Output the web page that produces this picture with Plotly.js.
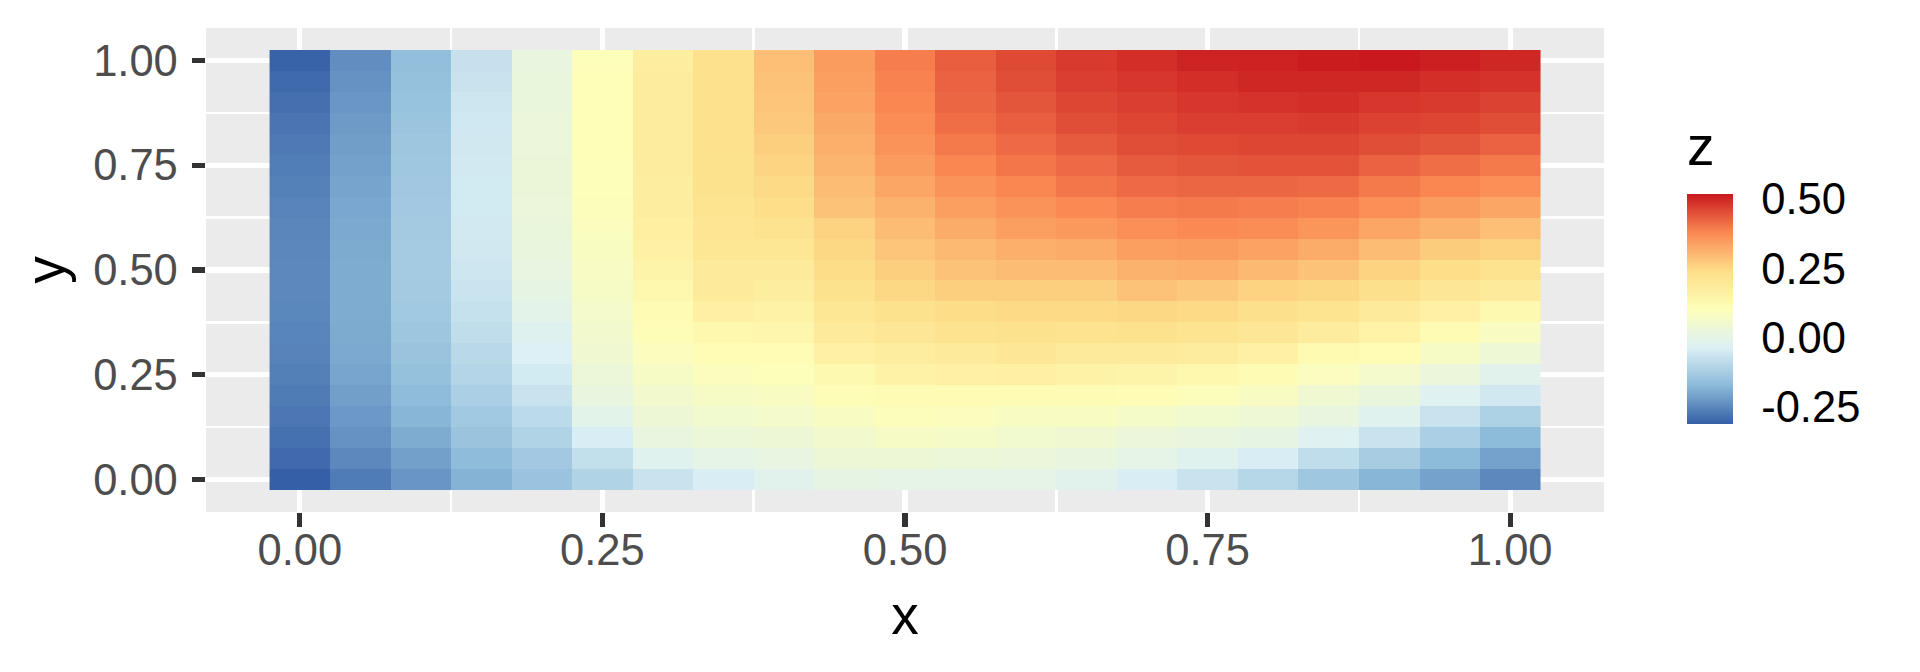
<!DOCTYPE html>
<html>
<head>
<meta charset="utf-8">
<script src="https://cdn.plot.ly/plotly-3.0.1.min.js"></script>
<style>html,body{margin:0;padding:0;background:#fff;}#chart{width:1920px;height:672px;}</style>
</head>
<body>
<div id="chart"></div>
<script>
// Grid positions
const xVals = [0,0.05,0.10,0.15,0.20,0.25,0.30,0.35,0.40,0.45,0.50,0.55,0.60,0.65,0.70,0.75,0.80,0.85,0.90,0.95,1.00];
const yVals = [0,0.05,0.10,0.15,0.20,0.25,0.30,0.35,0.40,0.45,0.50,0.55,0.60,0.65,0.70,0.75,0.80,0.85,0.90,0.95,1.00];

// z values, one array per x column, listed from y = 0 up to y = 1
const zX000 = [-0.312,-0.295,-0.285,-0.275,-0.268,-0.262,-0.258,-0.255,-0.252,-0.25,-0.25,-0.251,-0.253,-0.256,-0.26,-0.265,-0.272,-0.279,-0.287,-0.296,-0.306];
const zX005 = [-0.27,-0.25,-0.235,-0.225,-0.215,-0.205,-0.2,-0.197,-0.195,-0.195,-0.195,-0.197,-0.199,-0.202,-0.207,-0.212,-0.217,-0.222,-0.228,-0.234,-0.242];
const zX010 = [-0.23,-0.213,-0.195,-0.18,-0.168,-0.157,-0.148,-0.142,-0.136,-0.133,-0.131,-0.131,-0.133,-0.135,-0.137,-0.14,-0.143,-0.146,-0.151,-0.155,-0.16];
const zX015 = [-0.185,-0.168,-0.148,-0.136,-0.12,-0.105,-0.095,-0.085,-0.075,-0.067,-0.06,-0.055,-0.053,-0.052,-0.052,-0.053,-0.055,-0.057,-0.062,-0.068,-0.073];
const zX020 = [-0.15,-0.135,-0.11,-0.092,-0.07,-0.052,-0.035,-0.022,-0.008,0.004,0.012,0.018,0.022,0.025,0.027,0.027,0.026,0.025,0.023,0.02,0.015];
const zX025 = [-0.11,-0.08,-0.04,-0.01,0.015,0.03,0.045,0.055,0.063,0.07,0.077,0.083,0.09,0.095,0.1,0.1,0.101,0.102,0.102,0.102,0.1];
const zX030 = [-0.07,-0.02,0.015,0.035,0.055,0.07,0.09,0.105,0.115,0.13,0.145,0.16,0.168,0.175,0.178,0.18,0.18,0.18,0.18,0.18,0.178];
const zX035 = [-0.04,0.0,0.03,0.05,0.07,0.09,0.11,0.13,0.165,0.185,0.19,0.205,0.21,0.215,0.222,0.225,0.226,0.227,0.227,0.227,0.228];
const zX040 = [-0.015,0.01,0.035,0.06,0.08,0.1,0.11,0.135,0.155,0.175,0.19,0.205,0.22,0.235,0.245,0.255,0.265,0.275,0.28,0.285,0.29];
const zX045 = [0.005,0.035,0.055,0.08,0.105,0.125,0.16,0.185,0.205,0.225,0.24,0.25,0.26,0.285,0.295,0.305,0.315,0.325,0.335,0.34,0.345];
const zX050 = [0.0,0.035,0.07,0.095,0.115,0.155,0.175,0.2,0.225,0.25,0.265,0.28,0.295,0.31,0.33,0.345,0.36,0.37,0.38,0.385,0.39];
const zX055 = [0.0,0.03,0.065,0.09,0.115,0.16,0.19,0.22,0.24,0.265,0.285,0.3,0.32,0.34,0.36,0.38,0.395,0.41,0.42,0.425,0.43];
const zX060 = [0.0,0.025,0.05,0.08,0.115,0.165,0.2,0.225,0.245,0.265,0.295,0.315,0.34,0.36,0.38,0.4,0.415,0.43,0.44,0.45,0.455];
const zX065 = [-0.015,0.015,0.045,0.08,0.115,0.155,0.185,0.22,0.245,0.265,0.295,0.32,0.35,0.375,0.4,0.415,0.435,0.45,0.46,0.47,0.475];
const zX070 = [-0.04,0.0,0.025,0.065,0.11,0.145,0.19,0.225,0.25,0.285,0.31,0.34,0.365,0.39,0.415,0.435,0.45,0.46,0.47,0.48,0.49];
const zX075 = [-0.07,-0.02,0.015,0.05,0.095,0.13,0.18,0.215,0.245,0.275,0.315,0.345,0.375,0.395,0.42,0.44,0.455,0.47,0.48,0.49,0.505];
const zX080 = [-0.10,-0.04,0.005,0.04,0.08,0.115,0.16,0.20,0.23,0.26,0.30,0.335,0.37,0.39,0.42,0.445,0.46,0.47,0.485,0.50,0.507];
const zX085 = [-0.14,-0.085,-0.025,0.015,0.045,0.085,0.12,0.18,0.215,0.25,0.285,0.32,0.355,0.385,0.415,0.445,0.46,0.475,0.49,0.50,0.515];
const zX090 = [-0.18,-0.125,-0.07,-0.02,0.02,0.06,0.11,0.15,0.19,0.23,0.26,0.295,0.33,0.365,0.395,0.425,0.45,0.465,0.48,0.50,0.517];
const zX095 = [-0.21,-0.17,-0.12,-0.07,-0.025,0.025,0.07,0.115,0.16,0.20,0.235,0.27,0.31,0.345,0.38,0.41,0.44,0.46,0.475,0.49,0.51];
const zX100 = [-0.25,-0.21,-0.17,-0.115,-0.055,-0.015,0.04,0.08,0.125,0.185,0.22,0.26,0.29,0.33,0.365,0.395,0.425,0.45,0.465,0.485,0.50];

// Tick labels
const xTickVals = [0,0.25,0.5,0.75,1];
const xTickText = ['0.00','0.25','0.50','0.75','1.00'];
const yTickVals = [0,0.25,0.5,0.75,1];
const yTickText = ['0.00','0.25','0.50','0.75','1.00'];
const minorVals = [0.125,0.375,0.625,0.875];
const zTickVals = [-0.25,0,0.25,0.5];
const zTickText = ['-0.25','0.00','0.25','0.50'];
const legendTitle = 'z';

const columns = [zX000,zX005,zX010,zX015,zX020,zX025,zX030,zX035,zX040,zX045,zX050,zX055,zX060,zX065,zX070,zX075,zX080,zX085,zX090,zX095,zX100];
const z = yVals.map((_, j) => columns.map(col => col[j]));

const colorscale = [
  [0, '#355FA6'], [1/6, '#8BBAD9'], [2/6, '#DCF0F5'], [3/6, '#FEFEB8'],
  [4/6, '#FDDE88'], [5/6, '#FA8752'], [1, '#C9191E']
];

const FONT = 'Liberation Sans, Arial, Helvetica, sans-serif';
const TICK_SIZE = 43.5, TITLE_SIZE = 55;

// plot area in pixels
const PL = 206, PR = 1604.5, PT = 28, PB = 511.7;
const PW = PR - PL, PH = PB - PT;
// colorbar box in pixels (bar only)
const CB_L = 1688, CB_TOP = 194, CB_BOT = 424;

const trace = {
  type: 'heatmap',
  x: xVals, y: yVals, z: z,
  colorscale: colorscale,
  zsmooth: false,
  hoverinfo: 'skip',
  colorbar: {
    xref: 'paper', yref: 'paper',
    x: (CB_L - PL) / PW, xanchor: 'left',
    y: (PB - CB_BOT) / PH, yanchor: 'bottom',
    thickness: 46, thicknessmode: 'pixels',
    len: (CB_BOT - CB_TOP), lenmode: 'pixels',
    xpad: 0, ypad: 0,
    outlinewidth: 0,
    tickmode: 'array', tickvals: zTickVals, ticktext: zTickText,
    ticks: 'outside', ticklen: 20, tickwidth: 1, tickcolor: 'rgba(255,255,255,0)',
    tickfont: {family: FONT, size: TICK_SIZE, color: '#000'}
  }
};

const axisCommon = {
  tickmode: 'array',
  ticks: 'outside', ticklen: 13.5, tickwidth: 5.3, tickcolor: '#333333',
  showgrid: true, gridcolor: '#ffffff', gridwidth: 5.3,
  minor: {tickmode: 'array', tickvals: minorVals, showgrid: true, gridcolor: '#ffffff', gridwidth: 2.65, ticks: ''},
  zeroline: false, showline: false,
  tickfont: {family: FONT, size: TICK_SIZE, color: '#4D4D4D'},
  fixedrange: true
};

const layout = {
  width: 1920, height: 672,
  paper_bgcolor: '#ffffff', plot_bgcolor: '#EBEBEB',
  margin: {l: PL, r: 1920 - PR, t: PT, b: 672 - PB, pad: 0},
  showlegend: false,
  xaxis: Object.assign({}, axisCommon, {
    range: [-0.0775, 1.0775], tickvals: xTickVals, ticktext: xTickText,
    ticklabelstandoff: -14,
    title: {text: 'x', font: {family: FONT, size: TITLE_SIZE, color: '#000'}, standoff: 22}
  }),
  yaxis: Object.assign({}, axisCommon, {
    range: [-0.0775, 1.0775], tickvals: yTickVals, ticktext: yTickText,
    ticklabelstandoff: 5,
    title: {text: 'y', font: {family: FONT, size: TITLE_SIZE, color: '#000'}, standoff: 10}
  }),
  annotations: [{
    text: legendTitle, showarrow: false,
    xref: 'paper', yref: 'paper',
    x: (CB_L - PL) / PW, xanchor: 'left',
    y: (PB - 146) / PH, yanchor: 'middle',
    xshift: -2,
    font: {family: FONT, size: TITLE_SIZE, color: '#000'}
  }]
};

Plotly.newPlot('chart', [trace], layout, {displayModeBar: false, staticPlot: true});
</script>
</body>
</html>
